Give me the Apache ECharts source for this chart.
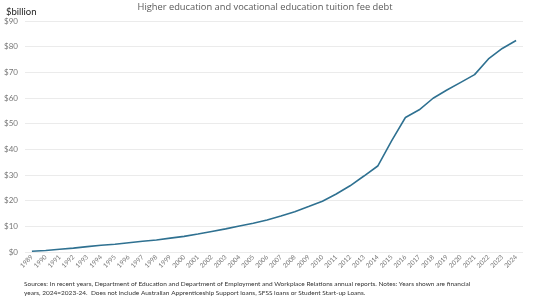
<!DOCTYPE html>
<html><head><meta charset="utf-8">
<script src="https://cdn.jsdelivr.net/npm/echarts@6/dist/echarts.min.js"></script>
<style>html,body{margin:0;padding:0;background:#fff}#c{width:536px;height:296px}</style>
</head><body><div id="c"></div>
<script>
const years = ['1989','1990','1991','1992','1993','1994','1995','1996','1997','1998','1999','2000','2001','2002','2003','2004','2005','2006','2007','2008','2009','2010','2011','2012','2013','2014','2015','2016','2017','2018','2019','2020','2021','2022','2023','2024'];
const debt = [0.3,0.6,1.1,1.5,2.1,2.6,3.0,3.6,4.2,4.7,5.4,6.1,7.0,8.0,9.0,10.1,11.2,12.5,14.0,15.7,17.7,19.8,22.6,25.8,29.6,33.5,43.3,52.4,55.4,59.9,63.1,66.1,69.1,75.2,79.3,82.4];
const yTicks = [0,10,20,30,40,50,60,70,80,90];
const titleText = 'Higher education and vocational education tuition fee debt';
const unitText = '$billion';
const sourceText = 'Sources: In recent years, Department of Education and Department of Employment and Workplace Relations annual reports. Notes: Years shown are financial\nyears, 2024=2023-24.  Does not include Australian Apprenticeship Support loans, SFSS loans or Student Start-up Loans.';
const FONT = 'Lato';

const chart = echarts.init(document.getElementById('c'));
chart.setOption({
  animation:false,
  textStyle:{fontFamily:FONT},
  title:[
    {text:titleText,left:265,textAlign:'center',top:3,padding:0,textStyle:{fontSize:9.3,fontWeight:'normal',color:'#595959',fontFamily:'Open Sans'}},
    {text:unitText,left:6,top:7,padding:0,textStyle:{fontSize:9.5,fontWeight:'normal',color:'#222',fontFamily:FONT}},
    {text:sourceText,left:24,top:279,padding:0,textStyle:{fontSize:6.5,fontWeight:'normal',color:'#333',lineHeight:9,fontFamily:FONT}}
  ],
  grid:{left:25,right:13,top:21,bottom:44,containLabel:false},
  xAxis:{type:'category',data:years,boundaryGap:true,
    axisLine:{show:false},axisTick:{show:false},
    axisLabel:{interval:0,rotate:45,fontSize:6.5,color:'#777',margin:4,fontFamily:FONT}},
  yAxis:{type:'value',min:0,max:90,interval:10,
    axisLine:{show:false},axisTick:{show:false},
    splitLine:{lineStyle:{color:'#ebebeb',width:1}},
    axisLabel:{fontSize:8,color:'#777',margin:7,fontFamily:FONT,formatter:v=>'$'+v}},
  series:[{type:'line',data:debt,symbol:'none',smooth:false,
    lineStyle:{color:'#2f7191',width:1.6}}]
});
</script></body></html>
